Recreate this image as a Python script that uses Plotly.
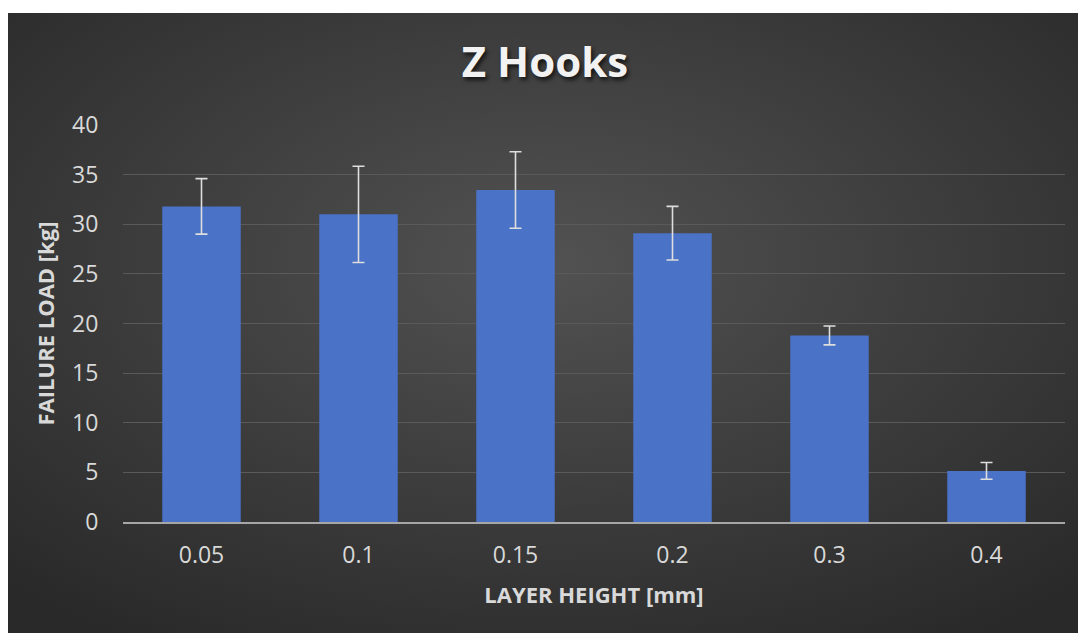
import base64
import plotly.graph_objects as go

categories = ["0.05", "0.1", "0.15", "0.2", "0.3", "0.4"]
failure_load = [31.8, 31.0, 33.45, 29.1, 18.8, 5.15]
error_vals = [2.8, 4.85, 3.85, 2.7, 0.95, 0.85]
y_ticks = [0, 5, 10, 15, 20, 25, 30, 35, 40]

W, H = 1078, 633
ML, MR, MT, MB = 123, 13, 125, 111
PW, PH = W - ML - MR, H - MT - MB

svg = (
    '<svg xmlns="http://www.w3.org/2000/svg" width="1070" height="620" viewBox="0 0 1070 620" preserveAspectRatio="none">'
    '<defs><radialGradient id="g" cx="50%" cy="40%" r="72%" fx="50%" fy="40%">'
    '<stop offset="0%" stop-color="#525252"/>'
    '<stop offset="100%" stop-color="#292929"/>'
    '</radialGradient></defs>'
    '<rect x="0" y="0" width="1070" height="620" fill="url(#g)"/></svg>'
)
src = "data:image/svg+xml;base64," + base64.b64encode(svg.encode()).decode()

def px_to_paper_x(px):
    return (px - ML) / PW

def px_to_paper_y(py):
    return (H - MB - py) / PH

text_col = "#d9d9d9"
font_family = "Open Sans"

fig = go.Figure()
fig.add_trace(go.Bar(
    x=categories,
    y=failure_load,
    width=0.5,
    marker=dict(color="#4a72c6", line=dict(width=0)),
    error_y=dict(type="data", array=error_vals, visible=True,
                 color="#dedede", thickness=1.6, width=6),
))

fig.update_layout(
    width=W, height=H,
    margin=dict(l=ML, r=MR, t=MT, b=MB, pad=0),
    paper_bgcolor="white",
    plot_bgcolor="rgba(0,0,0,0)",
    showlegend=False,
    images=[dict(
        source=src, xref="paper", yref="paper",
        x=px_to_paper_x(8), y=px_to_paper_y(13),
        sizex=px_to_paper_x(W + 4) - px_to_paper_x(8),
        sizey=px_to_paper_y(13) - px_to_paper_y(H + 4),
        sizing="stretch", xanchor="left", yanchor="top", layer="below",
    )],
    title=dict(
        text="<b>Z Hooks</b>", x=545 / W, xref="container", xanchor="center",
        y=1 - 62 / H, yref="container", yanchor="middle",
        font=dict(family=font_family, size=42, color="#f2f2f2",
                  shadow="2px 3px 4px rgba(0,0,0,0.7)"),
    ),
    xaxis=dict(
        type="category",
        tickfont=dict(family=font_family, size=23, color=text_col),
        showgrid=False,
        showline=True, linecolor="#a6a6a6", linewidth=2,
        ticks="outside", ticklen=0, ticklabelstandoff=11,
        title=dict(text="<b>LAYER HEIGHT [mm]</b>",
                   font=dict(family=font_family, size=22, color=text_col),
                   standoff=19),
    ),
    yaxis=dict(
        range=[0, 40], tickvals=y_ticks,
        tickfont=dict(family=font_family, size=23, color=text_col),
        showgrid=True, gridcolor="#5a5a5a", gridwidth=1,
        zeroline=False, showline=False,
        ticks="outside", ticklen=0, ticklabelstandoff=19,
        title=dict(text="<b>FAILURE LOAD [kg]</b>",
                   font=dict(family=font_family, size=22, color=text_col),
                   standoff=11),
    ),
    bargap=0.5,
)

fig.write_html(
    "out.html",
    config={"displayModeBar": False},
    post_script="document.body.style.margin='0';document.body.style.overflow='hidden';",
)
